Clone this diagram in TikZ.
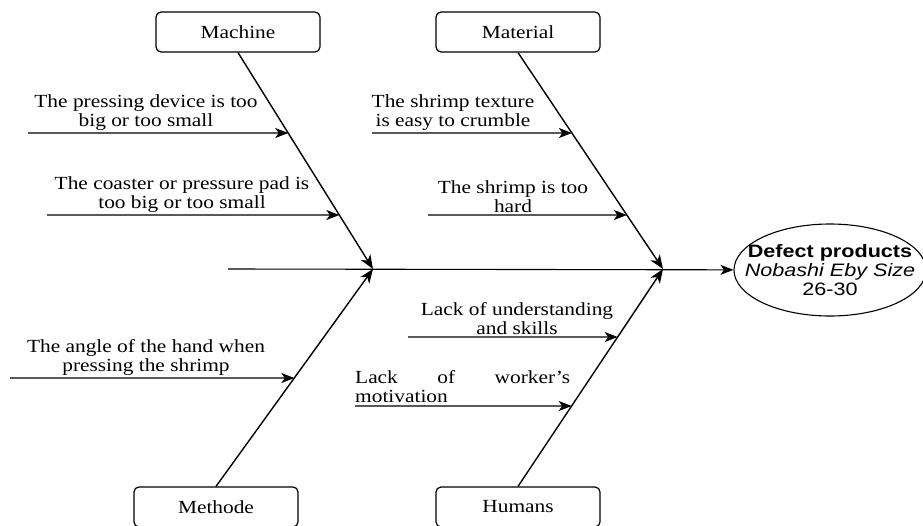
\documentclass[tikz,border=0pt]{standalone}
\usepackage{fontspec}
\setmainfont{Liberation Serif}[FakeStretch=1.155]
\newfontfamily\ellfont{Liberation Sans}[FakeStretch=1.2]
\usetikzlibrary{arrows.meta,shapes.geometric}
\newcommand\lbl{\fontsize{18.5}{19}\selectfont}
\newcommand\ellf{\ellfont\fontsize{18}{19}\selectfont}
\begin{document}
\begin{tikzpicture}[x=1pt,y=-1pt,
  cat/.style={draw, rounded corners=5pt, line width=1.2pt, minimum width=164pt, minimum height=40pt, inner sep=0pt, font=\lbl},
  bone/.style={line width=1.4pt, -{Stealth[length=14pt,width=11pt,inset=4pt]}},
  sub/.style={line width=1.1pt, -{Stealth[length=13pt,width=10pt,inset=3.5pt]}},
  cause/.style={align=center, inner sep=0pt, anchor=south, font=\lbl},
]
\clip (0,0) rectangle (923,525);
% category boxes
\node[cat] (mach) at (238,32) {Machine};
\node[cat] (mat) at (518,32) {Material};
\node[cat] (meth) at (216,507) {Methode};
\node[cat] (hum) at (518,507) {Humans};
% junctions and spine
\coordinate (j1) at (373,269);
\coordinate (j2) at (663,269);
\coordinate (s0) at (228,269);
\node[draw, ellipse, line width=1.1pt, minimum width=192pt, minimum height=92pt, inner sep=0pt] (eff) at (830,270) {};
\node[align=center, inner sep=0pt, font=\ellf] (efftext) at (eff.center) {\textbf{Defect products}\\\textit{Nobashi Eby Size}\\26-30};
\draw[sub] (s0) -- (eff);
% main bones
\draw[bone] (mach.south) -- (j1);
\draw[bone] (meth.north) -- (j1);
\draw[bone] (mat.south) -- (j2);
\draw[bone] (hum.north) -- (j2);
% sub-cause arrow starts
\coordinate (a1) at (28,133);
\coordinate (a2) at (47,215);
\coordinate (a3) at (10,378);
\coordinate (a4) at (372,133);
\coordinate (a5) at (428,215);
\coordinate (a6) at (408,337);
\coordinate (a7) at (355,406);
\draw[sub] (a1) -- (intersection of 0,133--900,133 and mach.south--j1);
\draw[sub] (a2) -- (intersection of 0,215--900,215 and mach.south--j1);
\draw[sub] (a3) -- (intersection of 0,378--900,378 and meth.north--j1);
\draw[sub] (a4) -- (intersection of 0,133--900,133 and mat.south--j2);
\draw[sub] (a5) -- (intersection of 0,215--900,215 and mat.south--j2);
\draw[sub] (a6) -- (intersection of 0,337--900,337 and hum.north--j2);
\draw[sub] (a7) -- (intersection of 0,406--900,406 and hum.north--j2);
% texts
\node[cause] (t1) at (146,131) {The pressing device is too\\big or too small};
\node[cause] (t2) at (182,213) {The coaster or pressure pad is\\too big or too small};
\node[cause] (t3) at (146,376) {The angle of the hand when\\pressing the shrimp};
\node[cause] (t4) at (453,131) {The shrimp texture\\is easy to crumble};
\node[cause] (t5) at (513,213) {The shrimp is too\\hard};
\node[cause] (t6) at (517,335) {Lack of understanding\\and skills};
\node[cause, anchor=south west, align=left] (t7) at (355,403) {\makebox[215pt][s]{Lack of worker's}\\motivation};
\end{tikzpicture}
\end{document}
